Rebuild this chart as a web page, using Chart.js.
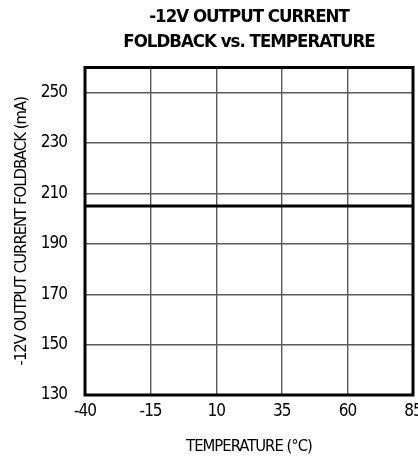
<!DOCTYPE html>
<html>
<head>
<meta charset="utf-8">
<script src="https://cdn.jsdelivr.net/npm/chart.js@4/dist/chart.umd.min.js"></script>
<style>
html,body{margin:0;padding:0;background:#fff;}
#wrap{width:418px;height:460px;position:relative;}
</style>
</head>
<body>
<div id="wrap"><canvas id="c" width="418" height="460"></canvas></div>
<script>
const temperature = [-40, -15, 10, 35, 60, 85];
const foldbackCurrent = [205, 205, 205, 205, 205, 205];
const xTicks = [-40, -15, 10, 35, 60, 85];
const yTicks = [130, 150, 170, 190, 210, 230, 250];
const titleLines = ['-12V OUTPUT CURRENT', 'FOLDBACK vs. TEMPERATURE'];
const xTitle = 'TEMPERATURE (\u00B0C)';
const yTitle = '-12V OUTPUT CURRENT FOLDBACK (mA)';

const FAM = "'DejaVu Sans Condensed', 'DejaVu Sans', sans-serif";

const frame = {
  id: 'frame',
  beforeDraw(chart) {
    try { chart.ctx.letterSpacing = '-1px'; } catch (e) {}
  },
  afterDraw(chart) {
    const a = chart.chartArea, ctx = chart.ctx;
    ctx.save();
    ctx.strokeStyle = '#000';
    ctx.lineWidth = 3;
    ctx.strokeRect(a.left, a.top, a.right - a.left, a.bottom - a.top);
    ctx.restore();
  }
};

new Chart(document.getElementById('c'), {
  type: 'line',
  data: {
    datasets: [{
      data: temperature.map((t, i) => ({x: t, y: foldbackCurrent[i]})),
      borderColor: '#000',
      borderWidth: 3,
      pointRadius: 0,
      fill: false,
      tension: 0
    }]
  },
  options: {
    responsive: false,
    animation: false,
    devicePixelRatio: 1,
    layout: {padding: {left: 0, right: 5, top: 0, bottom: 0}},
    plugins: {
      legend: {display: false},
      tooltip: {enabled: false},
      title: {
        display: true,
        fullSize: false,
        align: 'center',
        text: titleLines,
        color: '#000',
        font: {family: FAM, size: 18.5, weight: 'bold', lineHeight: 25/18.5},
        padding: {top: 5, bottom: 12.5}
      }
    },
    scales: {
      x: {
        type: 'linear',
        min: -40, max: 85,
        afterBuildTicks(s) { s.ticks = xTicks.map(v => ({value: v})); },
        afterFit(s) { s.height = 65; s.paddingLeft = 0; s.paddingRight = 0; },
        grid: {color: '#5a5a5a', lineWidth: 1.4, drawTicks: false},
        border: {display: false},
        ticks: {color: '#000', font: {family: FAM, size: 17}, padding: 6, maxRotation: 0},
        title: {display: true, text: xTitle, color: '#000', font: {family: FAM, size: 16.5, lineHeight: 1.2}, padding: {top: 0, bottom: 3.4}}
      },
      y: {
        min: 130, max: 260,
        afterBuildTicks(s) { s.ticks = yTicks.map(v => ({value: v})); },
        afterFit(s) { s.width = 85; s.paddingTop = 0; s.paddingBottom = 0; },
        grid: {color: '#5a5a5a', lineWidth: 1.4, drawTicks: false},
        border: {display: false},
        ticks: {color: '#000', font: {family: FAM, size: 17}, padding: 18},
        title: {display: true, text: yTitle, color: '#000', font: {family: FAM, size: 16.5, lineHeight: 1.2}, padding: {top: 12, bottom: 0}}
      }
    }
  },
  plugins: [frame]
});
</script>
</body>
</html>
